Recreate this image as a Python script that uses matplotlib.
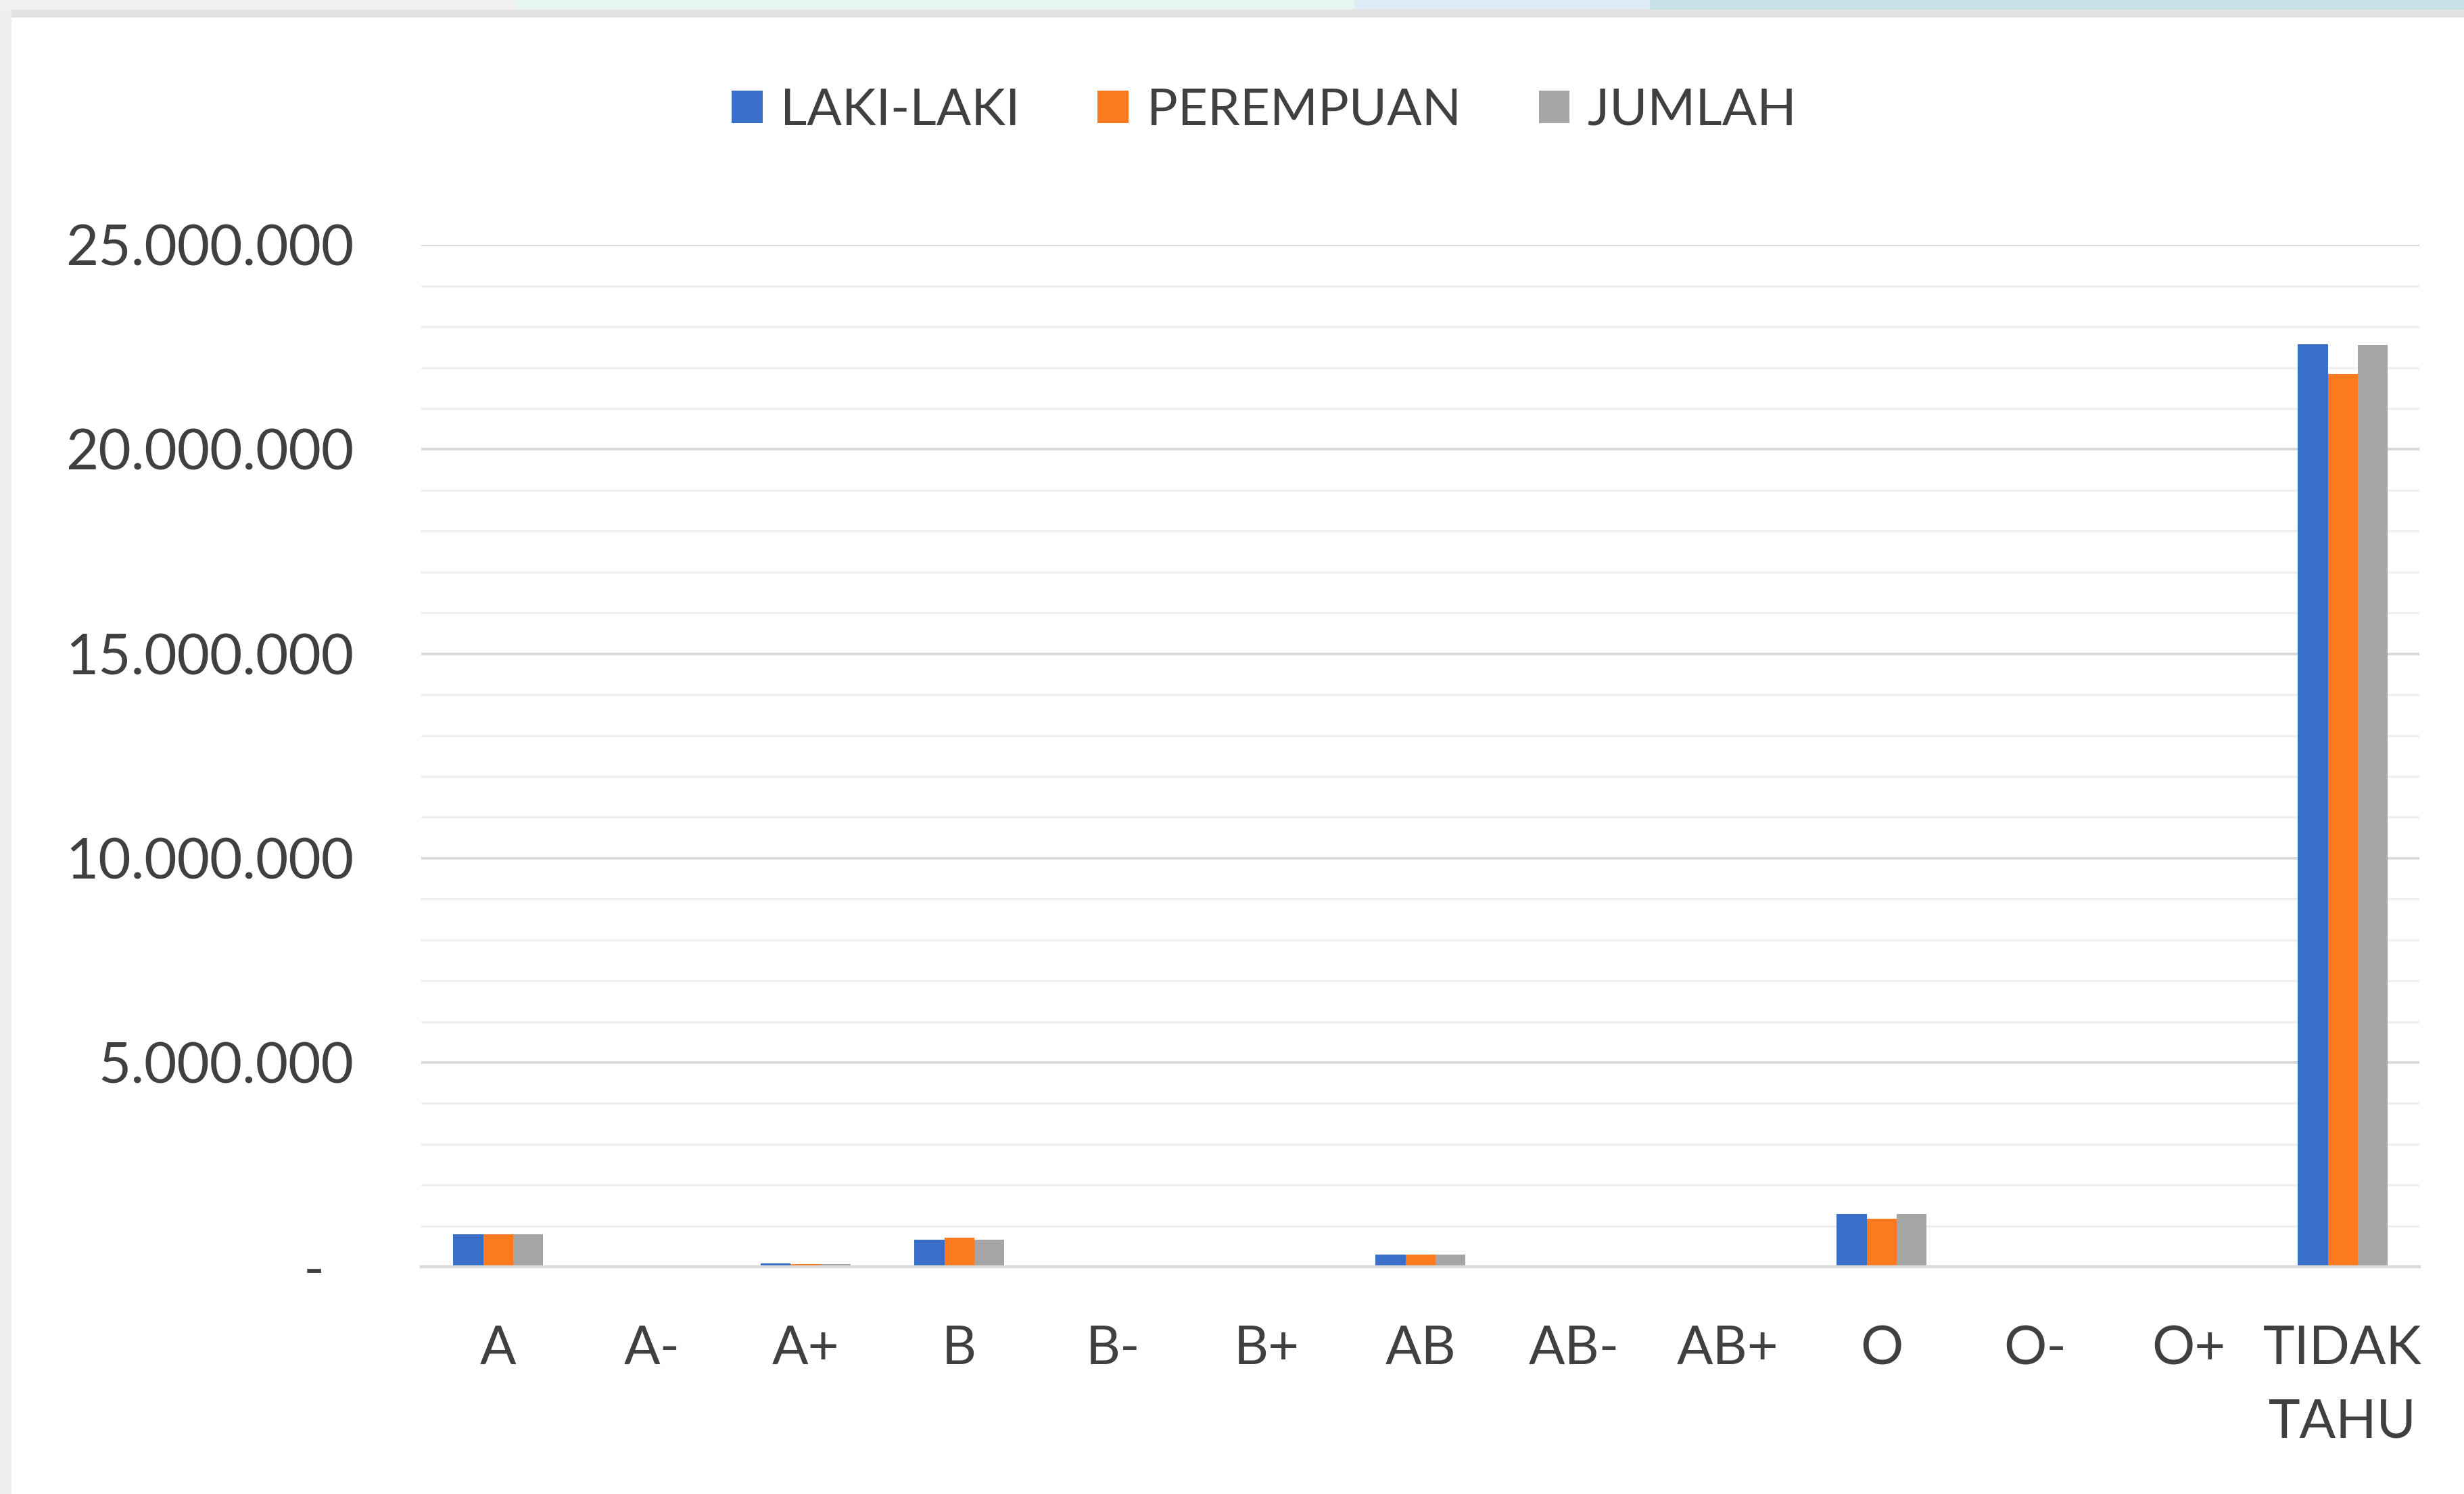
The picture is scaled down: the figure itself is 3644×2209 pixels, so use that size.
import numpy as np
import matplotlib as mpl
import matplotlib.pyplot as plt
from matplotlib.patches import Patch, Rectangle
from matplotlib.ticker import FuncFormatter, MultipleLocator

mpl.use("Agg")

categories = ["A", "A-", "A+", "B", "B-", "B+", "AB", "AB-", "AB+", "O", "O-", "O+", "TIDAK\nTAHU"]
laki_laki = [800_000, 3_000, 80_000, 660_000, 2_000, 3_000, 300_000, 1_000, 2_000, 1_290_000, 2_000, 5_000, 22_580_000]
perempuan = [800_000, 3_000, 75_000, 710_000, 2_000, 3_000, 300_000, 1_000, 2_000, 1_180_000, 2_000, 5_000, 21_850_000]
jumlah = [790_000, 3_000, 78_000, 660_000, 2_000, 3_000, 300_000, 1_000, 2_000, 1_290_000, 2_000, 5_000, 22_550_000]
series_names = ["LAKI-LAKI", "PEREMPUAN", "JUMLAH"]
colors = ["#3A6FC9", "#FB7A1F", "#A5A5A5"]

text_color = "#404040"
plt.rcParams["font.family"] = ["Lato", "DejaVu Sans"]


def thousands(v, _pos):
    if v == 0:
        return "-  "
    return f"{v:,.0f}".replace(",", ".")


def main():
    fig = plt.figure(figsize=(18.22, 11.045), dpi=200, facecolor="white")
    ax = fig.add_axes([0.171, 0.152, 0.811, 0.684])

    # screenshot frame at top / left
    fig.patches.append(Rectangle((0, 0.993), 0.21, 0.007, transform=fig.transFigure, color="#f0f0f0", zorder=0))
    fig.patches.append(Rectangle((0.21, 0.993), 0.34, 0.007, transform=fig.transFigure, color="#e6f5f0", zorder=0))
    fig.patches.append(Rectangle((0.55, 0.993), 0.12, 0.007, transform=fig.transFigure, color="#dfecf5", zorder=0))
    fig.patches.append(Rectangle((0.67, 0.993), 0.33, 0.007, transform=fig.transFigure, color="#c6e0e6", zorder=0))
    fig.patches.append(Rectangle((0, 0.989), 1, 0.004, transform=fig.transFigure, color="#e2e2e2", zorder=0))
    fig.patches.append(Rectangle((0, 0), 0.004, 0.993, transform=fig.transFigure, color="#eeeeee", zorder=0))

    x = np.arange(len(categories))
    width = 0.195
    for i, (vals, name, c) in enumerate(zip([laki_laki, perempuan, jumlah], series_names, colors)):
        ax.bar(x + (i - 1) * width, vals, width=width, color=c, label=name, zorder=3)

    ax.set_xlim(-0.5, len(categories) - 0.5)
    ax.set_ylim(0, 25_000_000)
    ax.yaxis.set_major_locator(MultipleLocator(5_000_000))
    ax.yaxis.set_minor_locator(MultipleLocator(1_000_000))
    ax.yaxis.set_major_formatter(FuncFormatter(thousands))
    ax.grid(axis="y", which="major", color="#d9d9d9", linewidth=1.4, zorder=0)
    ax.grid(axis="y", which="minor", color="#f0f0f0", linewidth=1.2, zorder=0)

    for side in ("top", "right", "left"):
        ax.spines[side].set_visible(False)
    ax.spines["bottom"].set_color("#d9d9d9")
    ax.spines["bottom"].set_linewidth(1.6)
    ax.spines["bottom"].set_zorder(4)

    ax.set_xticks(x)
    ax.set_xticklabels(categories, linespacing=1.62)
    ax.tick_params(axis="x", length=0, pad=31, labelsize=28.5, labelcolor=text_color)
    ax.tick_params(axis="y", which="both", length=0, pad=36, labelsize=30, labelcolor=text_color)

    handles = [Patch(facecolor=c, edgecolor="none") for c in colors]
    fig.legend(handles, series_names, loc="center", bbox_to_anchor=(0.513, 0.926), ncol=3,
               frameon=False, fontsize=27.5, labelcolor=text_color,
               handlelength=0.6, handleheight=0.6, handletextpad=0.35, columnspacing=1.5)

    fig.savefig("out.png", dpi=200, facecolor="white")
    plt.close(fig)


if __name__ == "__main__":
    main()
